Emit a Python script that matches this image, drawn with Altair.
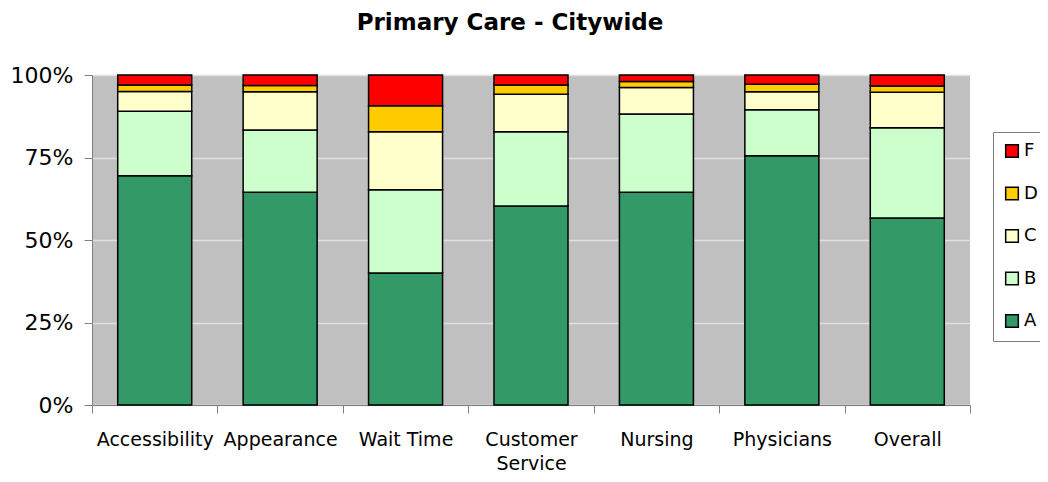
import altair as alt
import pandas as pd

categories = ["Accessibility", "Appearance", "Wait Time", "Customer Service",
              "Nursing", "Physicians", "Overall"]
grades = ["A", "B", "C", "D", "F"]
A = [69.5, 64.5, 40.0, 60.3, 64.5, 75.5, 56.7]
B = [19.5, 18.8, 25.2, 22.5, 23.7, 14.0, 27.3]
C = [6.0, 11.6, 17.6, 11.4, 8.0, 5.4, 10.8]
D = [2.0, 1.9, 7.9, 2.8, 1.8, 2.3, 1.9]
F = [3.0, 3.2, 9.3, 3.0, 2.0, 2.8, 3.3]
legend_order = ["F", "D", "C", "B", "A"]
colors = ["#FF0000", "#FFCC00", "#FFFFCC", "#CCFFCC", "#339966"]

series = {"A": A, "B": B, "C": C, "D": D, "F": F}
rows = []
for g_i, g in enumerate(grades):
    for c, v in zip(categories, series[g]):
        rows.append({"category": c, "grade": g, "value": v, "rank": g_i})
df = pd.DataFrame(rows)

FONT = "DejaVu Sans"

chart = alt.Chart(df).mark_bar(stroke="black", strokeWidth=1.5,
                               width=alt.RelativeBandSize(0.59)).encode(
    x=alt.X("category:N", sort=categories,
            scale=alt.Scale(paddingInner=0, paddingOuter=0),
            axis=alt.Axis(title=None, labelAngle=0, tickBand="extent",
                          labelOverlap=False, labelFontSize=19, labelColor="black",
                          labelPadding=17, tickSize=8, tickColor="#808080",
                          domainColor="#808080", labelLineHeight=24,
                          labelExpr="datum.label == 'Customer Service' ? ['Customer', 'Service'] : datum.label",
                          grid=False)),
    y=alt.Y("value:Q", stack="normalize", scale=alt.Scale(domain=[0, 1]),
            axis=alt.Axis(title=None, format="%", values=[0, 0.25, 0.5, 0.75, 1],
                          labelFontSize=22, labelColor="black", labelPadding=11,
                          tickSize=8, tickColor="#808080", domainColor="#808080",
                          grid=True, gridColor="#E0E0E0", gridWidth=1.5)),
    color=alt.Color("grade:N",
                    scale=alt.Scale(domain=legend_order, range=colors),
                    legend=alt.Legend(title=None, orient="none", legendX=901, legendY=57,
                                      symbolType="square", symbolSize=160,
                                      symbolStrokeColor="black", symbolStrokeWidth=1.5,
                                      symbolOpacity=1, labelOffset=3,
                                      labelFontSize=18, labelColor="black",
                                      strokeColor="#808080", padding=10,
                                      rowPadding=22.5, fillColor="white")),
    order=alt.Order("rank:Q", sort="ascending"),
).properties(
    width=878, height=330,
    title=alt.TitleParams("Primary Care - Citywide", fontSize=23, fontWeight="bold",
                          font=FONT, anchor="middle", dx=-21, offset=29, color="black"),
    autosize=alt.AutoSizeParams(type="none"),
    padding={"left": 84, "top": 67, "right": 70, "bottom": 69},
).configure(font=FONT).configure_view(stroke=None, fill="#C0C0C0")

chart.save("out.html", embed_options={"renderer": "svg", "actions": False})
